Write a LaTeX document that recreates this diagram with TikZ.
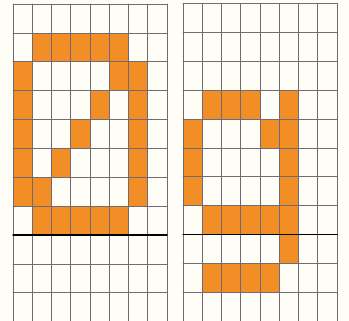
\documentclass[tikz,border=0pt]{standalone}
\definecolor{dotorange}{RGB}{242,142,38}
\definecolor{gridline}{RGB}{115,105,118}
\definecolor{paper}{RGB}{254,253,246}

\begin{document}
\begin{tikzpicture}[x=0.5cm,y=-0.75cm,line cap=round,line join=round]
  \fill[paper] (0,0) rectangle (18.13,11.11);
  \useasboundingbox (0,0) rectangle (18.13,11.11);
  % letter a
  \begin{scope}[shift={(0.675,0.14)}]
    \foreach \c/\r in {1/1,2/1,3/1,4/1,5/1,0/2,5/2,6/2,0/3,4/3,6/3,0/4,3/4,6/4,0/5,2/5,6/5,0/6,1/6,6/6,1/7,2/7,3/7,4/7,5/7} {
      \fill[dotorange] (\c,\r) rectangle ++(1,1);
    }
    \foreach \x in {0,...,8} {
      \draw[gridline,line width=0.5pt] (\x,0) -- (\x,11);
    }
    \foreach \y in {0,...,11} {
      \draw[gridline,line width=0.5pt] (0,\y) -- (8,\y);
    }
    \draw[line width=0.9pt] (0,8) -- (8,8);
  \end{scope}
  % letter g
  \begin{scope}[shift={(9.506,0.12)}]
    \foreach \c/\r in {1/3,2/3,3/3,5/3,0/4,4/4,5/4,0/5,5/5,0/6,5/6,1/7,2/7,3/7,4/7,5/7,5/8,1/9,2/9,3/9,4/9} {
      \fill[dotorange] (\c,\r) rectangle ++(1,1);
    }
    \foreach \x in {0,...,8} {
      \draw[gridline,line width=0.5pt] (\x,0) -- (\x,11);
    }
    \foreach \y in {0,...,11} {
      \draw[gridline,line width=0.5pt] (0,\y) -- (8,\y);
    }
    \draw[line width=0.9pt] (0,8) -- (8,8);
  \end{scope}
\end{tikzpicture}
\end{document}
